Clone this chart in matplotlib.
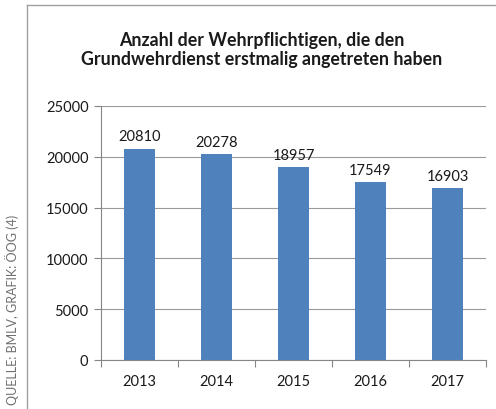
import matplotlib.pyplot as plt
from matplotlib.lines import Line2D
import numpy as np

# chart data
years = ['2013', '2014', '2015', '2016', '2017']
recruits = [20810, 20278, 18957, 17549, 16903]
yticks = [0, 5000, 10000, 15000, 20000, 25000]

plt.rcParams['font.family'] = ['Lato', 'DejaVu Sans']

fig = plt.figure(figsize=(4.96, 4.10), dpi=100)
ax = fig.add_axes([101 / 496, 49 / 410, 385 / 496, 254 / 410])

x = np.arange(len(years))
ax.bar(x, recruits, width=0.4, color='#4F81BD', zorder=3)

# value labels on top of the bars
for xi, val in zip(x, recruits):
    ax.text(xi, val + 500, str(val), ha='center', va='bottom',
            fontsize=10.5, color='#1a1a1a')

ax.set_xlim(-0.5, len(years) - 0.5)
ax.set_ylim(0, 25000)
ax.set_yticks(yticks)
ax.set_yticklabels([str(t) for t in yticks], fontsize=10.5, color='#1a1a1a')

# category labels in the middle, tick marks at the boundaries
ax.set_xticks(x)
ax.set_xticklabels(years, fontsize=10.5, color='#1a1a1a')
ax.tick_params(axis='x', which='major', length=0, pad=10)
ax.set_xticks(np.arange(-0.5, len(years)), minor=True)
ax.tick_params(axis='x', which='minor', length=5, color='#868686', width=0.8)
ax.tick_params(axis='y', length=5, color='#868686', width=0.8, pad=4)

ax.grid(axis='y', color='#9a9a9a', linewidth=0.8, zorder=0)
for side in ['top', 'right']:
    ax.spines[side].set_visible(False)
ax.spines['left'].set_color('#868686')
ax.spines['bottom'].set_color('#868686')
ax.spines['left'].set_linewidth(0.8)
ax.spines['bottom'].set_linewidth(0.8)

fig.text(262 / 496, 1 - 50 / 410,
         'Anzahl der Wehrpflichtigen, die den\nGrundwehrdienst erstmalig angetreten haben',
         ha='center', va='center', fontsize=12.8, fontweight='bold',
         color='#1a1a1a', linespacing=1.2)

# outer frame (top and left edge only)
fig.add_artist(Line2D([27 / 496, 1], [1 - 6 / 410, 1 - 6 / 410],
                      transform=fig.transFigure, color='#a0a0a0', linewidth=1))
fig.add_artist(Line2D([27 / 496, 27 / 496], [0, 1 - 6 / 410],
                      transform=fig.transFigure, color='#a0a0a0', linewidth=1))

fig.text(12 / 496, 5 / 410, 'QUELLE: BMLV, GRAFIK: ÖOG (4)', rotation=90,
         ha='center', va='bottom', fontsize=9, color='#707070')

fig.savefig('out.png', dpi=100)
